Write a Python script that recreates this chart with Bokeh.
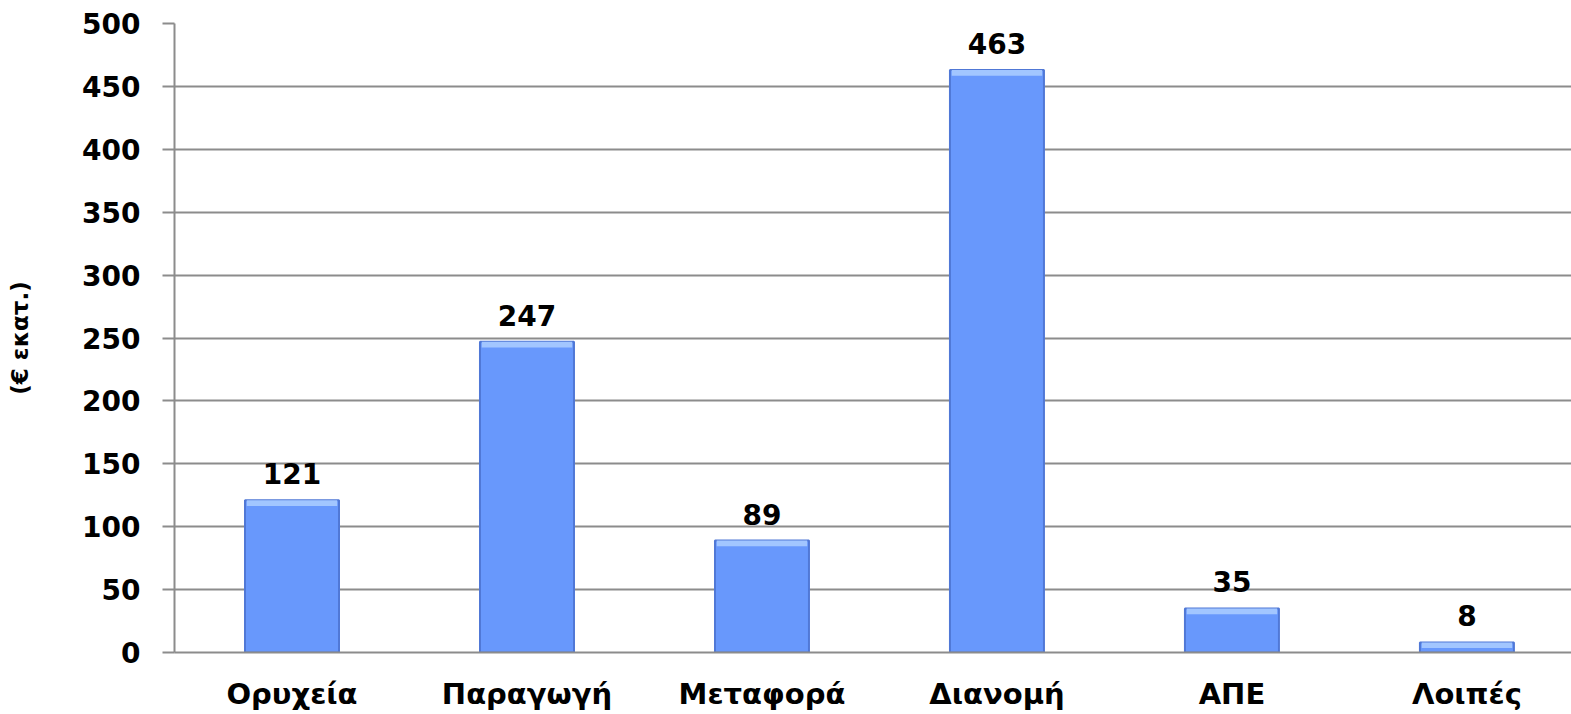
from bokeh.plotting import figure
from bokeh.models import ColumnDataSource, FixedTicker, Range1d, LabelSet
from bokeh.core.properties import value
from bokeh.embed import file_html
from bokeh.resources import INLINE

categories = ["Ορυχεία", "Παραγωγή", "Μεταφορά", "Διανομή", "ΑΠΕ", "Λοιπές"]
values = [121, 247, 89, 463, 35, 8]
y_ticks = [0, 50, 100, 150, 200, 250, 300, 350, 400, 450, 500]
y_label = "(€ εκατ.)"

xs = [i + 0.5 for i in range(len(categories))]
src = ColumnDataSource(dict(
    x=xs, top=values,
    bev=[max(v - 4.5, 0) for v in values],
    lab=[str(v) for v in values],
))

FONT = "DejaVu Sans"

p = figure(width=1571, height=714, output_backend="svg", toolbar_location=None,
           x_range=Range1d(0, 5.945), y_range=Range1d(0, 500),
           min_border_left=174, min_border_right=0, min_border_top=23, min_border_bottom=62)
p.outline_line_color = None
p.background_fill_color = "white"
p.border_fill_color = "white"

p.vbar(x="x", top="top", bottom=0, width=0.40, source=src,
       fill_color="#6898FC", line_color="#5078D6", line_width=2)
p.vbar(x="x", top="top", bottom="bev", width=0.385, source=src,
       fill_color="#A2C6FF", line_color=None)

labels = LabelSet(x="x", y="top", text="lab", source=src, text_align="center",
                  text_baseline="alphabetic", y_offset=16, text_font=value(FONT),
                  text_font_style="bold", text_font_size="28px", text_color="black")
p.add_layout(labels)

# grid
p.xgrid.grid_line_color = None
p.ygrid.grid_line_color = "#8C8C8C"
p.ygrid.grid_line_width = 2
p.ygrid.ticker = FixedTicker(ticks=y_ticks)

# y axis
p.yaxis.ticker = FixedTicker(ticks=y_ticks)
p.yaxis.axis_line_color = "#8C8C8C"
p.yaxis.axis_line_width = 2
p.yaxis.major_tick_line_color = "#8C8C8C"
p.yaxis.major_tick_line_width = 2
p.yaxis.major_tick_out = 12
p.yaxis.major_tick_in = 0
p.yaxis.minor_tick_line_color = None
p.yaxis.major_label_standoff = 22
p.yaxis.major_label_text_font = FONT
p.yaxis.major_label_text_font_style = "bold"
p.yaxis.major_label_text_font_size = "28px"
p.yaxis.major_label_text_color = "black"
p.yaxis.axis_label = y_label
p.yaxis.axis_label_text_font = FONT
p.yaxis.axis_label_text_font_style = "bold"
p.yaxis.axis_label_text_font_size = "23px"
p.yaxis.axis_label_text_color = "black"
p.yaxis.axis_label_standoff = 46

# x axis
p.xaxis.ticker = FixedTicker(ticks=xs)
p.xaxis.major_label_overrides = {x: c for x, c in zip(xs, categories)}
p.xaxis.axis_line_color = "#8C8C8C"
p.xaxis.axis_line_width = 2
p.xaxis.major_tick_line_color = None
p.xaxis.minor_tick_line_color = None
p.xaxis.major_label_standoff = 18
p.xaxis.major_label_text_font = FONT
p.xaxis.major_label_text_font_style = "bold"
p.xaxis.major_label_text_font_size = "29px"
p.xaxis.major_label_text_color = "black"

open("out.html", "w").write(file_html(p, INLINE))
